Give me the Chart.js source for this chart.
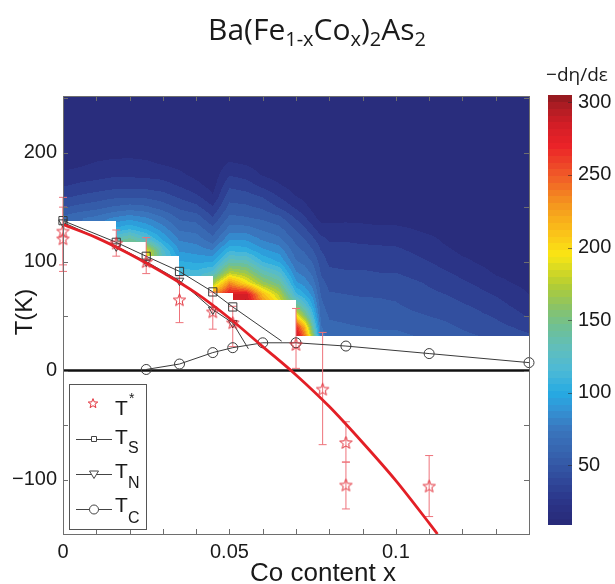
<!DOCTYPE html>
<html>
<head>
<meta charset="utf-8">
<script src="https://cdn.jsdelivr.net/npm/chart.js@4.4.1/dist/chart.umd.min.js"></script>
<style>
  html, body { margin: 0; padding: 0; background: #fff; }
  #wrap { position: relative; width: 615px; height: 584px; }
  #main { position: absolute; left: 0; top: 0; }
  #cbar { position: absolute; left: 530px; top: 0; }
</style>
</head>
<body>
<div id="wrap">
  <canvas id="main" width="615" height="584"></canvas>
  <canvas id="cbar" width="85" height="584"></canvas>
</div>
<script>
// T* points with error bars
const starX = [0, 0, 0.016, 0.025, 0.035, 0.045, 0.051, 0.07, 0.078, 0.085, 0.085, 0.11];
const starT = [128, 121, 117, 100, 65, 54, 44, 24, -17, -66, -105, -106];
const starLo = [97, 91, 105, 89, 44, 38, 22, 2, -68, -84, -127, -134];
const starHi = [159, 150, 129, 122, 87, 72, 59, 57, 35, -47, -84, -78];

// red fit through T*
const fitX = [0, 0.01, 0.02, 0.03, 0.04, 0.05, 0.06, 0.07, 0.08, 0.09, 0.10, 0.11, 0.1125];
const fitT = [134, 122, 107, 90, 71, 48, 22, -4, -33, -66, -101, -140, -150];

// structural, magnetic and superconducting transitions
const tsX = [0, 0.016, 0.025, 0.035, 0.045, 0.051, 0.0657];
const tsT = [137.6, 117.7, 104.9, 91, 72.2, 58.4, 27];
const tnX = [0, 0.016, 0.025, 0.035, 0.045, 0.051, 0.0557];
const tnT = [136, 114, 100, 82.5, 56, 43.7, 20];
const tcX = [0.025, 0.035, 0.045, 0.051, 0.060, 0.070, 0.085, 0.11, 0.14];
const tcT = [1, 6, 16.5, 21, 25.5, 25.5, 22.5, 15.6, 7.3];

// tick positions
const yTickVals = [-150, -100, -50, 0, 50, 100, 150, 200, 250];
const yLabelVals = [-100, 0, 100, 200];

// -d eta / d eps map: one column per heatX, values at heatT
const heatX = [0, 0.005, 0.01, 0.015, 0.02, 0.025, 0.03, 0.035, 0.04, 0.045, 0.05, 0.055, 0.06, 0.065,
  0.07, 0.0725, 0.075, 0.0775, 0.08, 0.085, 0.09, 0.095, 0.10, 0.105, 0.11, 0.115, 0.12, 0.125, 0.13, 0.135, 0.14];
const heatT = [30, 40, 50, 60, 70, 80, 90, 100, 110, 120, 130, 140, 150, 160, 170, 180, 190, 200, 250];
const heatCols = [
  [65,65,65,65,65,65,65,65,65,65,65,62,48,37,28,21,15,12,11],
  [70,70,70,70,70,70,70,70,70,70,70,68,52,40,31,23,17,13,11],
  [75,75,75,75,75,75,75,75,75,75,75,72,55,43,33,25,20,14,11],
  [140,140,140,140,140,140,140,140,140,130,100,80,60,46,35,27,22,15,11],
  [150,150,150,150,150,150,150,150,150,145,108,85,63,47,35,27,22,16,11],
  [195,195,195,195,195,195,195,195,190,125,98,80,61,46,35,26,21,15,11],
  [130,130,130,130,130,130,130,130,122,98,84,70,54,43,33,25,18,13,11],
  [115,115,115,115,115,115,115,100,88,78,67,57,47,37,28,21,16,12,11],
  [112,112,112,112,112,112,112,97,85,75,65,55,42,31,22,16,13,12,11],
  [230,230,230,230,230,170,122,98,80,63,52,40,30,20,15,13,12,12,11],
  [280,280,280,280,280,235,175,135,108,88,73,62,52,45,37,28,20,14,11],
  [290,290,290,295,285,200,165,133,105,88,73,60,51,43,34,25,18,13,11],
  [240,240,240,240,215,165,135,108,92,78,67,57,47,38,26,18,14,12,11],
  [195,195,195,195,175,145,120,98,85,72,62,52,38,28,20,14,12,12,11],
  [300,270,200,145,112,92,80,70,63,56,48,38,27,19,14,12,12,12,11],
  [250,220,160,125,100,85,75,66,58,50,41,31,22,16,13,12,12,12,11],
  [170,140,115,98,85,75,66,58,50,42,32,22,16,12,12,12,12,12,11],
  [75,70,66,62,58,53,48,44,39,33,23,16,13,12,12,12,12,12,11],
  [65,61,58,54,50,46,41,37,34,28,22,16,13,12,12,12,12,12,11],
  [64,60,57,53,49,45,40,36,33,28,22,17,13,12,12,12,12,12,11],
  [63,59,55,52,48,45,40,36,32,27,22,16,12,12,12,12,12,12,11],
  [62,58,54,51,48,44,39,35,31,27,21,15,12,12,12,12,12,12,11],
  [62,58,53,50,47,44,39,35,31,26,21,15,12,12,12,12,12,12,11],
  [60,56,51,47,44,41,36,32,28,24,19,14,12,12,12,12,12,12,11],
  [58,53,49,45,41,38,34,29,25,22,16,13,12,12,12,12,12,12,11],
  [55,51,47,43,39,35,30,25,21,17,14,12,12,12,12,12,12,12,11],
  [52,48,45,40,36,31,26,21,17,14,12,12,12,12,12,12,12,12,11],
  [50,45,41,37,32,27,22,18,15,13,12,12,12,12,12,12,12,12,11],
  [47,42,38,33,28,22,18,15,13,12,12,12,12,12,12,12,12,12,11],
  [45,39,33,28,24,19,16,14,12,12,12,12,12,12,12,12,12,12,11],
  [42,35,28,23,19,16,14,13,12,12,12,12,12,12,12,12,12,12,11]
];
// map is only measured above T_S of each sample (white below)
const stepX = [0, 0.016, 0.025, 0.035, 0.045, 0.051, 0.07];
const stepFloor = [137.6, 117.7, 104.9, 86.5, 71.2, 64.5, 31.5];

// colour scale
const cbMin = 9, cbMax = 305;
const cmapV = [9, 20, 30, 45, 60, 75, 90, 100, 115, 130, 145, 160, 175, 195, 210, 230, 250, 270, 285, 300, 305];
const cmapC = [[40,42,120],[42,48,130],[44,58,142],[50,80,160],[55,100,175],[58,118,190],[50,150,215],
  [38,170,226],[75,185,215],[95,190,190],[110,192,150],[140,195,100],[180,205,50],[250,230,20],
  [250,195,25],[245,150,30],[240,90,40],[235,35,40],[210,30,38],[165,28,34],[140,25,30]];

function colorAt(v) {
  if (v <= cmapV[0]) return cmapC[0];
  for (let k = 0; k < cmapV.length - 1; k++) {
    if (v <= cmapV[k + 1]) {
      const f = (v - cmapV[k]) / (cmapV[k + 1] - cmapV[k]);
      const a = cmapC[k], b = cmapC[k + 1];
      return [a[0] + (b[0] - a[0]) * f, a[1] + (b[1] - a[1]) * f, a[2] + (b[2] - a[2]) * f];
    }
  }
  return cmapC[cmapC.length - 1];
}
function rgb(c) { return 'rgb(' + Math.round(c[0]) + ',' + Math.round(c[1]) + ',' + Math.round(c[2]) + ')'; }

function findIdx(arr, v) {
  for (let k = 0; k < arr.length - 2; k++) if (v < arr[k + 1]) return k;
  return arr.length - 2;
}
function heatValue(xv, tv) {
  const i = findIdx(heatX, xv), j = findIdx(heatT, tv);
  const fx = Math.max(0, Math.min(1, (xv - heatX[i]) / (heatX[i + 1] - heatX[i])));
  const ft = Math.max(0, Math.min(1, (tv - heatT[j]) / (heatT[j + 1] - heatT[j])));
  const a = heatCols[i][j], b = heatCols[i + 1][j], c = heatCols[i][j + 1], d = heatCols[i + 1][j + 1];
  return (a * (1 - fx) + b * fx) * (1 - ft) + (c * (1 - fx) + d * fx) * ft;
}
function floorAt(xv) {
  let f = stepFloor[0];
  for (let k = 0; k < stepX.length; k++) if (xv >= stepX[k]) f = stepFloor[k];
  return f;
}

function makeStar(size, color) {
  const c = document.createElement('canvas');
  c.width = c.height = size;
  const g = c.getContext('2d');
  const cx = size / 2, cy = size / 2 + 0.6, R = size / 2 - 1, r = R * 0.42;
  g.beginPath();
  for (let k = 0; k < 10; k++) {
    const ang = -Math.PI / 2 + k * Math.PI / 5;
    const rad = k % 2 ? r : R;
    const px = cx + rad * Math.cos(ang), py = cy + rad * Math.sin(ang);
    if (k) g.lineTo(px, py); else g.moveTo(px, py);
  }
  g.closePath();
  g.strokeStyle = color;
  g.lineWidth = 1;
  g.stroke();
  return c;
}
const starImg = makeStar(15, '#e2323c');
const starSmall = makeStar(12, '#e2323c');

const pts = (xs, ys) => xs.map((v, k) => ({x: v, y: ys[k]}));

const heatPlugin = {
  id: 'heat',
  beforeDatasetsDraw(chart) {
    const {ctx, chartArea: a, scales: {x, y}} = chart;
    const left = Math.round(x.getPixelForValue(heatX[0]));
    const right = Math.round(x.getPixelForValue(heatX[heatX.length - 1]));
    const top = Math.round(a.top);
    const bottom = Math.round(y.getPixelForValue(Math.min(...stepFloor)));
    const w = right - left, h = bottom - top;
    const img = ctx.createImageData(w, h);
    for (let py = 0; py < h; py++) {
      const tv = y.getValueForPixel(top + py + 0.5);
      for (let px = 0; px < w; px++) {
        const xv = x.getValueForPixel(left + px + 0.5);
        if (tv < floorAt(xv)) continue;
        const v = heatValue(xv, Math.min(tv, heatT[heatT.length - 1]));
        const q = cbMin + (Math.floor((v - cbMin) / 10) + 0.5) * 10;
        const c = colorAt(q);
        const k = (py * w + px) * 4;
        img.data[k] = c[0]; img.data[k + 1] = c[1]; img.data[k + 2] = c[2]; img.data[k + 3] = 255;
      }
    }
    ctx.putImageData(img, left, top);

    // zero line
    ctx.save();
    ctx.strokeStyle = '#111';
    ctx.lineWidth = 2.5;
    const y0 = y.getPixelForValue(0);
    ctx.beginPath(); ctx.moveTo(a.left, y0); ctx.lineTo(a.right, y0); ctx.stroke();

    // error bars of T*
    ctx.strokeStyle = '#ee737b';
    ctx.lineWidth = 1;
    starX.forEach((sx, k) => {
      const px = x.getPixelForValue(sx);
      const lo = y.getPixelForValue(starLo[k]), hi = y.getPixelForValue(starHi[k]);
      ctx.beginPath();
      ctx.moveTo(px, lo); ctx.lineTo(px, hi);
      ctx.moveTo(px - 4, lo); ctx.lineTo(px + 4, lo);
      ctx.moveTo(px - 4, hi); ctx.lineTo(px + 4, hi);
      ctx.stroke();
    });
    ctx.restore();
  },
  afterDraw(chart) {
    const {ctx, chartArea: a, scales: {x, y}} = chart;
    ctx.save();
    // frame with inward ticks
    ctx.strokeStyle = '#6e6e6e';
    ctx.lineWidth = 1;
    ctx.strokeRect(Math.round(a.left) + 0.5, Math.round(a.top) + 0.5, Math.round(a.right - a.left), Math.round(a.bottom - a.top));
    ctx.beginPath();
    x.ticks.forEach(t => {
      const px = Math.round(x.getPixelForValue(t.value)) + 0.5;
      ctx.moveTo(px, a.bottom); ctx.lineTo(px, a.bottom - 5);
      ctx.moveTo(px, a.top); ctx.lineTo(px, a.top + 5);
    });
    y.ticks.forEach(t => {
      const py = Math.round(y.getPixelForValue(t.value)) + 0.5;
      ctx.moveTo(a.left, py); ctx.lineTo(a.left + 5, py);
      ctx.moveTo(a.right, py); ctx.lineTo(a.right - 5, py);
    });
    ctx.stroke();

    // title
    const parts = [['Ba(Fe', 0], ['1-x', 1], ['Co', 0], ['x', 1], [')', 0], ['2', 1], ['As', 0], ['2', 1]];
    const big = '30px "Open Sans"', small = '20px "Open Sans"';
    let total = 0;
    parts.forEach(p => { ctx.font = p[1] ? small : big; total += ctx.measureText(p[0]).width; });
    let tx = 317 - total / 2;
    ctx.fillStyle = '#1a1a1a';
    ctx.textAlign = 'left';
    ctx.textBaseline = 'alphabetic';
    parts.forEach(p => {
      ctx.font = p[1] ? small : big;
      ctx.fillText(p[0], tx, 40 + (p[1] ? 6 : 0));
      tx += ctx.measureText(p[0]).width;
    });

    // axis titles
    ctx.font = '26px "Liberation Sans"';
    ctx.textAlign = 'center';
    ctx.fillText('Co content x', 323, 581);
    ctx.save();
    ctx.translate(32, 312);
    ctx.rotate(-Math.PI / 2);
    ctx.font = '24px "Liberation Sans"';
    ctx.fillText('T(K)', 0, 0);
    ctx.restore();

    // legend box
    ctx.fillStyle = '#fff';
    ctx.fillRect(69, 384, 77, 145);
    ctx.strokeStyle = '#555';
    ctx.strokeRect(69.5, 384.5, 77, 145);
    ctx.drawImage(starSmall, 93 - 6, 403 - 6);
    const rows = [[439, 'S'], [474, 'N'], [509, 'C']];
    ctx.strokeStyle = '#444';
    rows.forEach((r, k) => {
      ctx.beginPath(); ctx.moveTo(76, r[0] + 0.5); ctx.lineTo(112, r[0] + 0.5); ctx.stroke();
      ctx.fillStyle = '#fff';
      ctx.beginPath();
      if (k === 0) ctx.rect(91.5, r[0] - 2.5, 5, 5);
      else if (k === 1) { ctx.moveTo(89.5, r[0] - 3); ctx.lineTo(98.5, r[0] - 3); ctx.lineTo(94, r[0] + 4.5); ctx.closePath(); }
      else ctx.arc(94, r[0] + 0.5, 4.5, 0, Math.PI * 2);
      ctx.fill(); ctx.stroke();
    });
    ctx.fillStyle = '#1a1a1a';
    ctx.textAlign = 'left';
    ctx.font = '21px "Liberation Sans"';
    ctx.fillText('T', 115, 415);
    ctx.fillText('T', 115, 443.5);
    ctx.fillText('T', 115, 478);
    ctx.fillText('T', 115, 512);
    ctx.font = '14px "Liberation Sans"';
    ctx.fillText('*', 129, 403);
    ctx.font = '16px "Liberation Sans"';
    ctx.fillText('S', 128, 453);
    ctx.fillText('N', 128, 488);
    ctx.fillText('C', 128, 523);
    ctx.restore();
  }
};

const tickFont = {family: 'Liberation Sans', size: 20};

new Chart(document.getElementById('main'), {
  type: 'scatter',
  data: {
    datasets: [
      {label: 'T*', data: pts(starX, starT), pointStyle: starImg, showLine: false, clip: false},
      {label: 'fit', data: pts(fitX, fitT), showLine: true, pointRadius: 0, borderColor: '#e31f26',
        borderWidth: 2.8, cubicInterpolationMode: 'monotone'},
      {label: 'TS', data: pts(tsX, tsT), showLine: true, borderColor: '#3a3a3a', borderWidth: 1,
        pointStyle: 'rect', pointRadius: tsX.map((v, k) => k === tsX.length - 1 ? 0 : 5.8),
        pointBorderColor: '#3a3a3a', pointBackgroundColor: 'rgba(0,0,0,0)', pointBorderWidth: 1, clip: false},
      {label: 'TN', data: pts(tnX, tnT), showLine: true, borderColor: '#3a3a3a', borderWidth: 1,
        pointStyle: 'triangle', pointRotation: 180, pointRadius: tnX.map((v, k) => k === tnX.length - 1 ? 0 : 5),
        pointBorderColor: '#3a3a3a', pointBackgroundColor: 'rgba(0,0,0,0)', pointBorderWidth: 1, clip: false},
      {label: 'TC', data: pts(tcX, tcT), showLine: true, borderColor: '#3a3a3a', borderWidth: 1,
        pointStyle: 'circle', pointRadius: 5, pointBorderColor: '#3a3a3a',
        pointBackgroundColor: 'rgba(0,0,0,0)', pointBorderWidth: 1, clip: false}
    ]
  },
  options: {
    responsive: false,
    animation: false,
    devicePixelRatio: 1,
    layout: {padding: {left: 0, top: 96, right: 86, bottom: 0}},
    plugins: {legend: {display: false}, tooltip: {enabled: false}},
    scales: {
      x: {
        type: 'linear', min: 0, max: 0.14,
        grid: {display: false, drawTicks: false},
        border: {display: false},
        ticks: {
          stepSize: 0.01, autoSkip: false, maxRotation: 0, padding: 6, font: tickFont, color: '#1a1a1a',
          callback: v => {
            const r = Math.round(v * 100);
            if (r === 0) return '0';
            if (r === 5) return '0.05';
            if (r === 10) return '0.1';
            return '';
          }
        },
        afterFit: s => { s.height = 50; }
      },
      y: {
        type: 'linear', min: -150, max: 252,
        grid: {display: false, drawTicks: false},
        border: {display: false},
        ticks: {
          autoSkip: false, padding: 6, font: tickFont, color: '#1a1a1a',
          callback: v => (yLabelVals.includes(v) ? (v < 0 ? '\u2212' + Math.abs(v) : String(v)) : '')
        },
        afterBuildTicks: s => { s.ticks = yTickVals.map(v => ({value: v})); },
        afterFit: s => { s.width = 63; }
      }
    }
  },
  plugins: [heatPlugin]
});

const cbarPlugin = {
  id: 'cbarFill',
  beforeDatasetsDraw(chart) {
    const {ctx, chartArea: a, scales: {y}} = chart;
    const n = 64, step = (cbMax - cbMin) / n;
    for (let k = 0; k < n; k++) {
      const v0 = cbMin + k * step;
      const yt = Math.floor(y.getPixelForValue(v0 + step));
      const yb = Math.ceil(y.getPixelForValue(v0));
      ctx.fillStyle = rgb(colorAt(v0 + step / 2));
      ctx.fillRect(a.left, yt, a.right - a.left, yb - yt);
    }
    ctx.save();
    ctx.strokeStyle = 'rgba(40,40,40,0.55)';
    ctx.lineWidth = 1;
    ctx.beginPath();
    y.ticks.forEach(t => {
      const py = Math.round(y.getPixelForValue(t.value)) + 0.5;
      ctx.moveTo(a.right, py); ctx.lineTo(a.right - 4, py);
    });
    ctx.stroke();
    ctx.fillStyle = '#1a1a1a';
    ctx.font = '19px "Open Sans"';
    ctx.textAlign = 'center';
    ctx.textBaseline = 'alphabetic';
    ctx.fillText('\u2212d\u03b7/d\u03b5', 47, 81);
    ctx.restore();
  }
};

new Chart(document.getElementById('cbar'), {
  type: 'scatter',
  data: {datasets: [{data: []}]},
  options: {
    responsive: false,
    animation: false,
    devicePixelRatio: 1,
    layout: {padding: {left: 18, top: 95, right: 0, bottom: 59}},
    plugins: {legend: {display: false}, tooltip: {enabled: false}},
    scales: {
      x: {display: false, min: 0, max: 1},
      y: {
        position: 'right', min: cbMin, max: cbMax,
        grid: {display: false, drawTicks: false},
        border: {display: false},
        ticks: {stepSize: 50, includeBounds: false, padding: 6, font: tickFont, color: '#1a1a1a'},
        afterFit: s => { s.width = 43; }
      }
    }
  },
  plugins: [cbarPlugin]
});
</script>
</body>
</html>
